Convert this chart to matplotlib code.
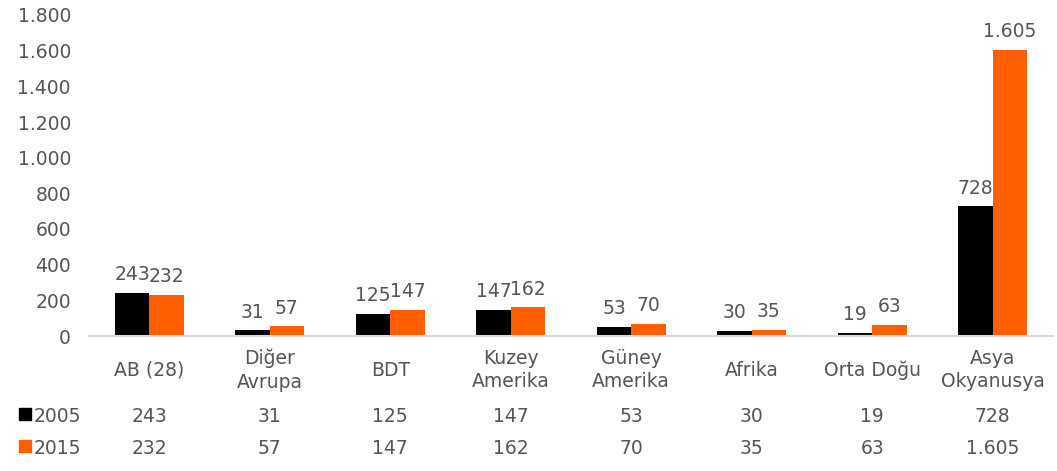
import matplotlib.pyplot as plt
import numpy as np
from matplotlib.patches import Rectangle
import matplotlib.transforms as mtransforms

plt.rcParams['font.family'] = ['DejaVu Sans']

# veriler
categories = ['AB (28)', 'Diğer\nAvrupa', 'BDT', 'Kuzey\nAmerika', 'Güney\nAmerika',
              'Afrika', 'Orta Doğu', 'Asya\nOkyanusya']
years = ['2005', '2015']
values_2005 = [243, 31, 125, 147, 53, 30, 19, 728]
values_2015 = [232, 57, 147, 162, 70, 35, 63, 1605]
yticks = [0, 200, 400, 600, 800, 1000, 1200, 1400, 1600, 1800]

colors = ['#000000', '#FF5F00']
text_color = '#555555'
fs = 13.5


def fmt(v):
    # binlik ayırıcı nokta
    return f'{v:,}'.replace(',', '.')


fig = plt.figure(figsize=(10.57, 4.71), dpi=100)
ax = fig.add_axes([89 / 1057, (471 - 336) / 471, (1053 - 89) / 1057, 321 / 471])

x = np.arange(len(categories))
w = 0.285
series = [values_2005, values_2015]
for i, vals in enumerate(series):
    pos = x + (i - 0.5) * w
    bars = ax.bar(pos, vals, width=w, color=colors[i], zorder=2)
    for b, v in zip(bars, vals):
        ax.annotate(fmt(v), (b.get_x() + b.get_width() / 2, v), xytext=(0, 6),
                    textcoords='offset points', ha='center', va='bottom',
                    fontsize=fs, color=text_color)

ax.set_xlim(-0.5, len(categories) - 0.5)
ax.set_ylim(0, 1800)
ax.set_yticks(yticks)
ax.set_yticklabels([fmt(t) for t in yticks], fontsize=fs, color=text_color)
ax.tick_params(axis='y', length=0, pad=13)
ax.set_xticks([])
for s in ['top', 'right', 'left']:
    ax.spines[s].set_visible(False)
ax.spines['bottom'].set_color('#D9D9D9')
ax.spines['bottom'].set_linewidth(1.5)

# kategori etiketleri ve veri tablosu
trans = mtransforms.blended_transform_factory(ax.transData, fig.transFigure)
for xi, cat in zip(x, categories):
    ax.text(xi, 1 - 370 / 471, cat, transform=trans, ha='center', va='center',
            fontsize=fs, color=text_color, linespacing=1.3)
row_y = [1 - 417 / 471, 1 - 449 / 471]
for r, vals in enumerate(series):
    for xi, v in zip(x, vals):
        ax.text(xi, row_y[r], fmt(v), transform=trans, ha='center', va='center',
                fontsize=fs, color=text_color)
    fig.patches.append(Rectangle((19 / 1057, row_y[r] - 3 / 471), 12 / 1057, 12 / 471,
                                 transform=fig.transFigure, color=colors[r]))
    fig.text(34 / 1057, row_y[r], years[r], ha='left', va='center',
             fontsize=fs, color=text_color)

fig.savefig('out.png', dpi=100)
